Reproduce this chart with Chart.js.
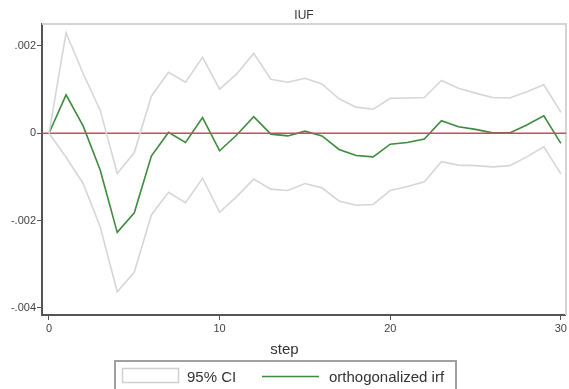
<!DOCTYPE html>
<html>
<head>
<meta charset="utf-8">
<script src="https://cdn.jsdelivr.net/npm/chart.js@4/dist/chart.umd.min.js"></script>
<style>
  html, body { margin: 0; padding: 0; background: #fff; }
  #wrap { width: 569px; height: 389px; position: relative; }
</style>
</head>
<body>
<div id="wrap"><canvas id="irf-chart" width="569" height="389"></canvas></div>
<script>
// impulse response of IUF, 0..30 steps
var steps = [];
for (var s = 0; s <= 30; s++) steps.push(s);

var irf = [0, 0.00088, 0.00017, -0.00084, -0.00227, -0.00182, -0.00052, 0.00002, -0.00021, 0.00036,
  -0.00040, -0.00004, 0.00038, -0.00002, -0.00006, 0.00005, -0.00006, -0.00037, -0.00051, -0.00054,
  -0.00025, -0.00021, -0.00013, 0.00029, 0.00015, 0.00009, 0.00001, 0.00001, 0.00019, 0.00040, -0.00023];

var ciUpper = [0, 0.00230, 0.00137, 0.00053, -0.00092, -0.00044, 0.00085, 0.00140, 0.00117, 0.00174,
  0.00101, 0.00136, 0.00183, 0.00124, 0.00117, 0.00126, 0.00113, 0.00079, 0.00060, 0.00055,
  0.00080, 0.00081, 0.00082, 0.00121, 0.00103, 0.00092, 0.00082, 0.00081, 0.00095, 0.00111, 0.00048];

var ciLower = [0, -0.00055, -0.00115, -0.00214, -0.00363, -0.00318, -0.00187, -0.00135, -0.00159, -0.00103,
  -0.00181, -0.00145, -0.00105, -0.00128, -0.00131, -0.00115, -0.00125, -0.00155, -0.00165, -0.00163,
  -0.00131, -0.00122, -0.00111, -0.00065, -0.00073, -0.00074, -0.00077, -0.00074, -0.00054, -0.00031, -0.00093];

var yTicks = [-0.004, -0.002, 0, 0.002];
var yTickLabels = ['-.004', '-.002', '0', '.002'];
var xTicks = [0, 10, 20, 30];

var chartTitle = 'IUF';
var xTitle = 'step';
var ciLabel = '95% CI';
var irfLabel = 'orthogonalized irf';

var FONT = '"Liberation Sans", Arial, sans-serif';

function toPoints(vals) {
  return steps.map(function(x, i) { return { x: x, y: vals[i] }; });
}

// frame, titles and the boxed legend underneath
var decorations = {
  id: 'decorations',
  beforeDatasetsDraw: function(chart) {
    var ctx = chart.ctx, a = chart.chartArea;
    ctx.save();
    ctx.strokeStyle = '#d4d4d4';
    ctx.lineWidth = 2;
    ctx.beginPath();
    ctx.moveTo(a.left, a.top);
    ctx.lineTo(a.right, a.top);
    ctx.lineTo(a.right, a.bottom);
    ctx.stroke();
    ctx.restore();
  },
  afterDraw: function(chart) {
    var ctx = chart.ctx, a = chart.chartArea;
    ctx.save();
    ctx.fillStyle = '#333';
    ctx.textAlign = 'center';
    ctx.textBaseline = 'alphabetic';
    ctx.font = '12px ' + FONT;
    ctx.fillText(chartTitle, (a.left + a.right) / 2, 19);
    ctx.font = '15px ' + FONT;
    ctx.fillText(xTitle, chart.width / 2, 354);

    // legend box
    ctx.strokeStyle = '#a0a0a0';
    ctx.lineWidth = 2;
    ctx.strokeRect(115, 361, 341, 40);
    ctx.strokeStyle = '#d0d0d0';
    ctx.lineWidth = 1.5;
    ctx.fillStyle = '#fff';
    ctx.fillRect(122.5, 368.5, 56, 14);
    ctx.strokeRect(122.5, 368.5, 56, 14);

    ctx.strokeStyle = '#3d8b3d';
    ctx.lineWidth = 1.5;
    ctx.beginPath();
    ctx.moveTo(262, 376.5);
    ctx.lineTo(319, 376.5);
    ctx.stroke();

    ctx.fillStyle = '#333';
    ctx.textAlign = 'left';
    ctx.font = '15px ' + FONT;
    ctx.fillText(ciLabel, 187, 382);
    ctx.fillText(irfLabel, 329, 382);
    ctx.restore();
  }
};

new Chart(document.getElementById('irf-chart'), {
  type: 'line',
  data: {
    datasets: [{
      label: ciLabel,
      data: toPoints(ciUpper),
      borderColor: '#d6d6d6',
      borderWidth: 1.6,
      pointRadius: 0,
      fill: false
    }, {
      label: ciLabel,
      data: toPoints(ciLower),
      borderColor: '#d6d6d6',
      borderWidth: 1.6,
      pointRadius: 0,
      fill: false
    }, {
      label: 'zero',
      data: [{ x: -0.41, y: 0 }, { x: 30.3, y: 0 }],
      borderColor: '#d9445e',
      borderWidth: 1.4,
      pointRadius: 0,
      fill: false
    }, {
      label: irfLabel,
      data: toPoints(irf),
      borderColor: '#3d8b3d',
      borderWidth: 1.6,
      pointRadius: 0,
      fill: false
    }]
  },
  plugins: [decorations],
  options: {
    responsive: false,
    animation: false,
    layout: { padding: { left: 0, right: 1, top: 24, bottom: 0 } },
    plugins: {
      legend: { display: false },
      title: { display: false },
      tooltip: { enabled: false }
    },
    scales: {
      x: {
        type: 'linear',
        min: -0.41,
        max: 30.3,
        afterBuildTicks: function(scale) {
          scale.ticks = xTicks.map(function(v) { return { value: v }; });
        },
        afterFit: function(scale) { scale.height = 74; },
        grid: { drawOnChartArea: false, drawTicks: true, tickLength: 5, color: '#555', lineWidth: 1 },
        border: { display: true, color: '#555', width: 2 },
        ticks: {
          autoSkip: false,
          maxRotation: 0,
          padding: 2,
          color: '#444',
          font: { family: FONT, size: 11 }
        }
      },
      y: {
        type: 'linear',
        min: -0.004163,
        max: 0.002504,
        afterBuildTicks: function(scale) {
          scale.ticks = yTicks.map(function(v) { return { value: v }; });
        },
        afterFit: function(scale) { scale.width = 42; },
        grid: { drawOnChartArea: false, drawTicks: true, tickLength: 5, color: '#555', lineWidth: 1 },
        border: { display: true, color: '#555', width: 2 },
        ticks: {
          padding: 1,
          color: '#444',
          font: { family: FONT, size: 11 },
          callback: function(value) {
            var i = yTicks.indexOf(value);
            return i >= 0 ? yTickLabels[i] : '';
          }
        }
      }
    }
  }
});
</script>
</body>
</html>
